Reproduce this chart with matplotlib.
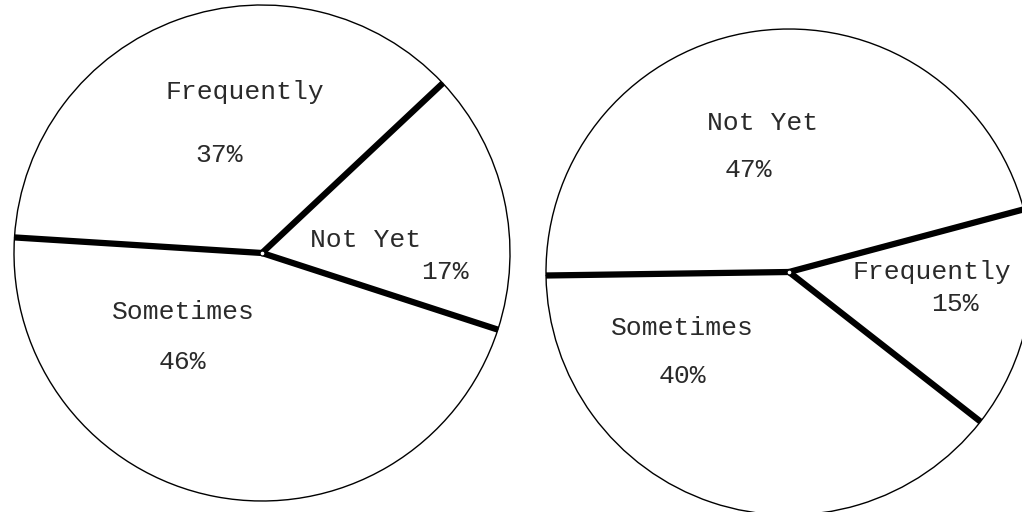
import numpy as np
import matplotlib.pyplot as plt

# survey answers, two pies (percent as printed)
left_labels = ['Not Yet', 'Frequently', 'Sometimes']
left_pcts = [17, 37, 46]
right_labels = ['Frequently', 'Not Yet', 'Sometimes']
right_pcts = [15, 47, 40]

plt.rcParams['font.family'] = ['Liberation Mono', 'DejaVu Sans Mono']

fig = plt.figure(figsize=(10.22, 5.12), dpi=100)
ax = fig.add_axes([0, 0, 1, 1])
ax.set_xlim(0, 1022)
ax.set_ylim(0, 512)
ax.set_aspect('equal')
ax.axis('off')


def draw_pie(vals, start, center, radius):
    wedges, _ = ax.pie(vals, startangle=start, center=center, radius=radius,
                       colors=['white'] * len(vals),
                       wedgeprops=dict(edgecolor='black', linewidth=1.0))
    cx, cy = center
    for w in wedges:
        t = np.deg2rad(w.theta1)
        ax.plot([cx, cx + radius * np.cos(t)], [cy, cy + radius * np.sin(t)],
                color='black', lw=4.5, solid_capstyle='butt')
    ax.plot(cx, cy, 'o', ms=3.5, mfc='white', mec='black', mew=0.8)
    return wedges


draw_pie(left_pcts, -18, (262, 259), 248)
draw_pie(right_pcts, -38, (789, 240), 243)
ax.set_xlim(0, 1022)
ax.set_ylim(0, 512)

txt = dict(ha='center', va='center', fontsize=19, color='#2a2a2a')

# left pie labels
ax.text(245, 512 - 92, left_labels[1], **txt)
ax.text(219, 512 - 155, f'{left_pcts[1]}%', **txt)
ax.text(366, 512 - 240, left_labels[0], **txt)
ax.text(445, 512 - 272, f'{left_pcts[0]}%', **txt)
ax.text(183, 512 - 312, left_labels[2], **txt)
ax.text(182, 512 - 362, f'{left_pcts[2]}%', **txt)

# right pie labels
ax.text(763, 512 - 123, right_labels[1], **txt)
ax.text(748, 512 - 170, f'{right_pcts[1]}%', **txt)
ax.text(932, 512 - 272, right_labels[0], **txt)
ax.text(955, 512 - 304, f'{right_pcts[0]}%', **txt)
ax.text(682, 512 - 328, right_labels[2], **txt)
ax.text(682, 512 - 376, f'{right_pcts[2]}%', **txt)

fig.savefig('out.png', dpi=100)
